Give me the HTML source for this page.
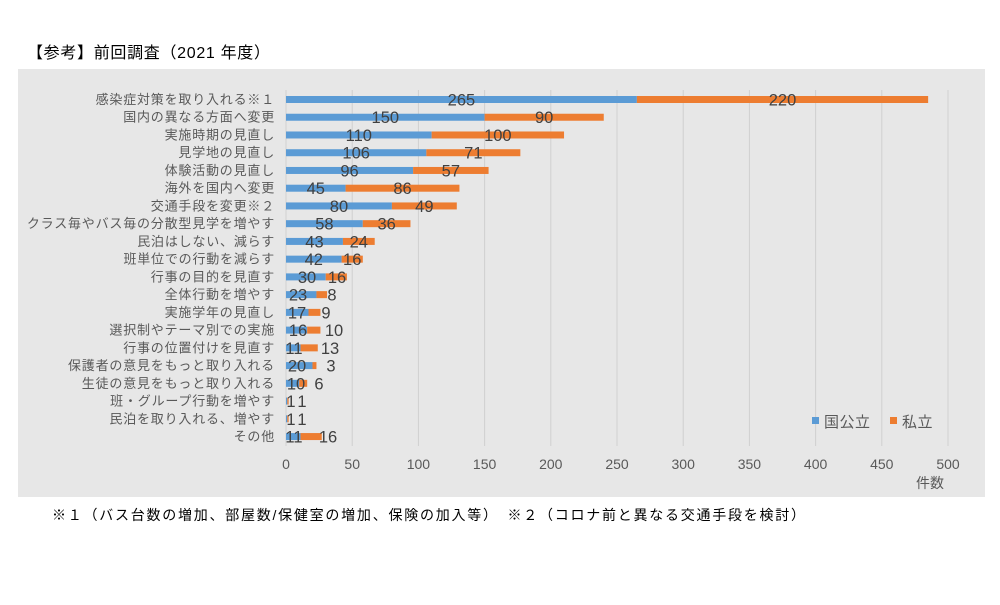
<!DOCTYPE html>
<html><head><meta charset="utf-8"><style>
body{margin:0;background:#fff;width:1000px;height:600px;overflow:hidden}
svg text{font-family:"Liberation Sans","Noto Sans CJK JP",sans-serif}
</style></head><body>
<svg width="1000" height="600" xmlns="http://www.w3.org/2000/svg">
<text x="27" y="58" font-size="16" fill="#000" textLength="243" lengthAdjust="spacing">【参考】前回調査（2021 年度）</text>
<rect x="18" y="69" width="967" height="428" fill="#e7e7e7"/>
<g id="g"></g>
<rect x="812" y="417" width="7" height="7" fill="#5B9BD5"/>
<text x="824" y="427" font-size="15" fill="#595959" letter-spacing="0.5">国公立</text>
<rect x="890" y="417" width="7" height="7" fill="#ED7D31"/>
<text x="902" y="427" font-size="15" fill="#595959" letter-spacing="0.5">私立</text>
<text x="930" y="488" font-size="14" fill="#595959" text-anchor="middle">件数</text>
<text x="52" y="520" font-size="14" fill="#000" textLength="753" lengthAdjust="spacing">※１（バス台数の増加、部屋数/保健室の増加、保険の加入等）　※２（コロナ前と異なる交通手段を検討）</text>
</svg>
<script>
const d=[["感染症対策を取り入れる※１",265,220],["国内の異なる方面へ変更",150,90],["実施時期の見直し",110,100],["見学地の見直し",106,71],["体験活動の見直し",96,57],["海外を国内へ変更",45,86],["交通手段を変更※２",80,49],["クラス毎やバス毎の分散型見学を増やす",58,36],["民泊はしない、減らす",43,24],["班単位での行動を減らす",42,16],["行事の目的を見直す",30,16,307,337],["全体行動を増やす",23,8,298,332],["実施学年の見直し",17,9,297,326],["選択制やテーマ別での実施",16,10,298,334],["行事の位置付けを見直す",11,13,294,330],["保護者の意見をもっと取り入れる",20,3,297,331],["生徒の意見をもっと取り入れる",10,6,296,319],["班・グループ行動を増やす",1,1,291,302],["民泊を取り入れる、増やす",1,1,291,302],["その他",11,16,294,328]];
const x0=286,k=1.324;let s="";
for(let v=0;v<=500;v+=50){const x=x0+v*k;s+=`<line x1="${x}" y1="90" x2="${x}" y2="446" stroke="#d0d0d0"/>`;s+=`<text x="${x}" y="469" font-size="14" fill="#595959" text-anchor="middle">${v}</text>`;}
d.forEach((r,i)=>{const y=99.5+i*17.74;const w1=r[1]*k,w2=r[2]*k;
s+=`<text x="275" y="${y+4.5}" font-size="13" fill="#595959" text-anchor="end" letter-spacing="0.8">${r[0]}</text>`;
s+=`<rect x="${x0}" y="${y-3.5}" width="${w1}" height="7" fill="#5B9BD5"/><rect x="${x0+w1}" y="${y-3.5}" width="${w2}" height="7" fill="#ED7D31"/>`;
const a=r[3]||x0+w1/2,b=r[4]||x0+w1+w2/2;
s+=`<text x="${a}" y="${y+6}" font-size="16.5" fill="#404040" text-anchor="middle">${r[1]}</text>`;
s+=`<text x="${b}" y="${y+6}" font-size="16.5" fill="#404040" text-anchor="middle">${r[2]}</text>`;});
document.getElementById("g").innerHTML=s;
</script>
</body></html>
